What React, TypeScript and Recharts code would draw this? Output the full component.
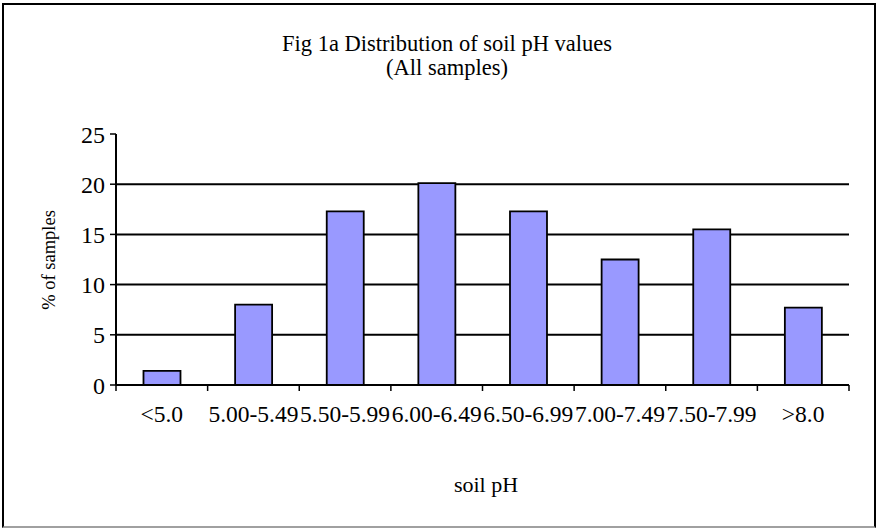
import { BarChart, Bar, XAxis, YAxis, CartesianGrid } from "recharts";

const phClasses = [
  "<5.0",
  "5.00-5.49",
  "5.50-5.99",
  "6.00-6.49",
  "6.50-6.99",
  "7.00-7.49",
  "7.50-7.99",
  ">8.0",
];
const pctSamples = [1.4, 8.0, 17.3, 20.1, 17.3, 12.5, 15.5, 7.7];
const yTicks = [0, 5, 10, 15, 20, 25];
const gridValues = [5, 10, 15, 20];

const data = phClasses.map((ph, i) => ({ ph, pct: pctSamples[i] }));

const W = 877;
const H = 528;
const MARGIN = { top: 134, right: 28, bottom: 0, left: 56 };
const Y_AXIS_W = 60;
const X_AXIS_H = 143;
const BAND = (W - MARGIN.left - Y_AXIS_W - MARGIN.right) / phClasses.length;
const FONT = '"Liberation Serif", "Times New Roman", serif';

// excel-style: tick marks sit between categories, label in the middle
function PhTick(props: any) {
  const { x, y, payload, index } = props;
  const half = BAND / 2;
  return (
    <g>
      <line x1={x - half} x2={x - half} y1={y} y2={y + 6} stroke="#000" strokeWidth={1.5} />
      {index === phClasses.length - 1 && (
        <line x1={x + half} x2={x + half} y1={y} y2={y + 6} stroke="#000" strokeWidth={1.5} />
      )}
      <text x={x} y={y + 37} textAnchor="middle" fontSize={23.5} fontFamily={FONT} fill="#000">
        {payload.value}
      </text>
    </g>
  );
}

export default function App() {
  return (
    <div style={{ position: "absolute", left: 0, top: 0, width: W, height: H, background: "#fff", fontFamily: FONT }}>
      <div
        style={{
          position: "absolute",
          left: 2,
          top: 3,
          width: 874,
          height: 525,
          boxSizing: "border-box",
          borderTop: "2px solid #000",
          borderLeft: "2px solid #000",
          borderRight: "2px solid #000",
          borderBottom: "2px solid #a0a0a0",
        }}
      />
      <BarChart
        width={W}
        height={H}
        data={data}
        margin={MARGIN}
        barCategoryGap="30%"
        style={{ position: "absolute", left: 0, top: 0 }}
      >
        <CartesianGrid vertical={false} horizontalValues={gridValues} stroke="#000" strokeWidth={2} />
        <XAxis
          dataKey="ph"
          height={X_AXIS_H}
          interval={0}
          tickSize={0}
          tickMargin={0}
          tickLine={false}
          axisLine={{ stroke: "#000", strokeWidth: 2 }}
          tick={<PhTick />}
        />
        <XAxis
          xAxisId="frame"
          dataKey="ph"
          orientation="top"
          height={0}
          tick={false}
          tickLine={false}
          axisLine={{ stroke: "#888", strokeWidth: 2 }}
        />
        <YAxis
          width={Y_AXIS_W}
          domain={[0, 25]}
          ticks={yTicks}
          interval={0}
          tickSize={6}
          tickMargin={5}
          tickLine={{ stroke: "#000", strokeWidth: 1.5 }}
          axisLine={{ stroke: "#000", strokeWidth: 2 }}
          tick={{ fontSize: 24, fill: "#000", fontFamily: FONT }}
        />
        <YAxis
          yAxisId="frame"
          orientation="right"
          width={0}
          domain={[0, 25]}
          tick={false}
          tickLine={false}
          axisLine={{ stroke: "#888", strokeWidth: 2 }}
        />
        <Bar dataKey="pct" fill="#9999ff" stroke="#000" strokeWidth={1.8} isAnimationActive={false} />
      </BarChart>
      <div
        style={{
          position: "absolute",
          left: 0,
          width: 894,
          top: 32,
          textAlign: "center",
          fontSize: 22.5,
          lineHeight: "24px",
        }}
      >
        Fig 1a Distribution of soil pH values
        <br />
        (All samples)
      </div>
      <div
        style={{
          position: "absolute",
          left: 386,
          width: 200,
          top: 473,
          textAlign: "center",
          fontSize: 22,
          lineHeight: "24px",
        }}
      >
        soil pH
      </div>
      <div
        style={{
          position: "absolute",
          left: 49,
          top: 260,
          transform: "translate(-50%, -50%) rotate(-90deg)",
          whiteSpace: "nowrap",
          fontSize: 18.5,
          lineHeight: "20px",
        }}
      >
        % of samples
      </div>
    </div>
  );
}
